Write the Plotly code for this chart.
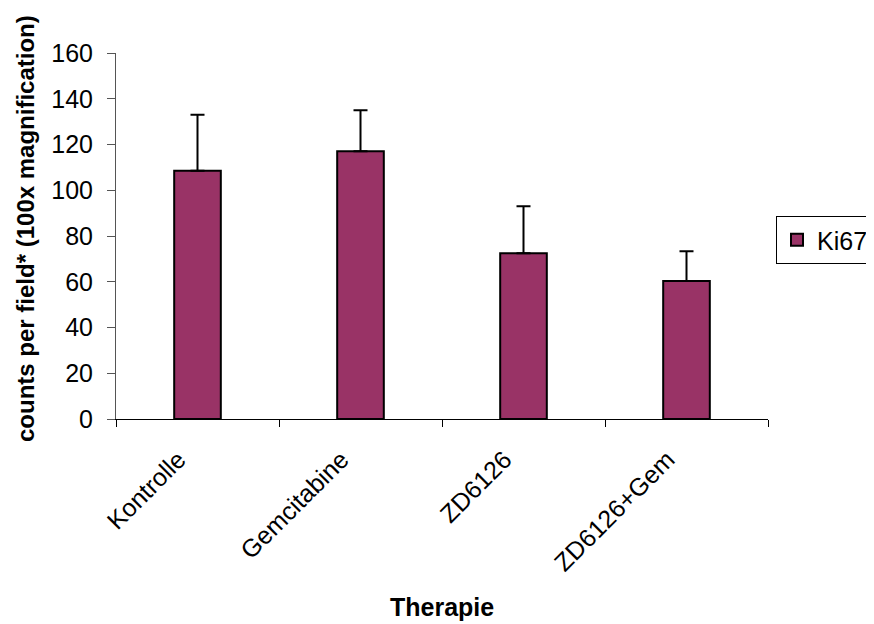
import plotly.graph_objects as go

categories = ["Kontrolle", "Gemcitabine", "ZD6126", "ZD6126+Gem"]
values = [108.5, 117, 72.5, 60.3]
errors = [24.5, 18, 20.5, 13]
y_ticks = [0, 20, 40, 60, 80, 100, 120, 140, 160]

FONT = "Liberation Sans, Arial, sans-serif"
FS = 25

fig = go.Figure()
fig.add_trace(go.Bar(
    x=categories, y=values, name="Ki67",
    marker=dict(color="#993366", line=dict(color="black", width=2)),
    width=0.286,
    error_y=dict(type="data", symmetric=False, array=errors,
                 arrayminus=[0] * len(errors), color="black",
                 thickness=2, width=7),
))

# page body adds an 8px offset; compensate so the plot lands where the reference has it
OFF = 8
W, H = 874, 624
L, T = 116 - OFF, 53 - OFF
pw, ph = 652, 366
R, B = W - L - pw, H - T - ph

def px_to_paper_x(px):
    return (px - OFF - L) / pw

def px_to_paper_y(py):
    return (T + ph - (py - OFF)) / ph

fig.update_layout(
    width=W, height=H,
    margin=dict(l=L, r=R, t=T, b=B, autoexpand=False),
    plot_bgcolor="white", paper_bgcolor="white",
    font=dict(family=FONT, size=FS, color="black"),
    showlegend=True,
    legend=dict(x=px_to_paper_x(776), y=px_to_paper_y(216), xanchor="left", yanchor="top",
                bordercolor="black", borderwidth=1, bgcolor="white",
                font=dict(size=FS), itemwidth=30, tracegroupgap=0),
    xaxis=dict(
        automargin=False,
        showline=True, linecolor="black", linewidth=1,
        ticks="outside", tickson="boundaries", ticklen=7, tickcolor="black",
        tickangle=-45, showgrid=False, tickfont=dict(size=FS),
        ticklabelshift=-19, ticklabelstandoff=15,
    ),
    yaxis=dict(
        automargin=False,
        range=[0, 160], tickvals=y_ticks,
        showline=True, linecolor="#555555", linewidth=1,
        ticks="outside", ticklen=8, tickcolor="#555555",
        showgrid=False, zeroline=False, tickfont=dict(size=FS),
        ticklabelstandoff=9,
    ),
    annotations=[
        dict(text="<b>Therapie</b>", xref="paper", yref="paper",
             x=0.5, y=px_to_paper_y(607), xanchor="center", yanchor="middle",
             showarrow=False, font=dict(size=FS, family=FONT)),
        dict(text="<b>counts per field* (100x magnification)</b>", xref="paper", yref="paper",
             x=px_to_paper_x(25), y=px_to_paper_y(229), xanchor="center", yanchor="middle",
             textangle=-90, showarrow=False, font=dict(size=24, family=FONT)),
    ],
)

fig.write_html("out.html")
